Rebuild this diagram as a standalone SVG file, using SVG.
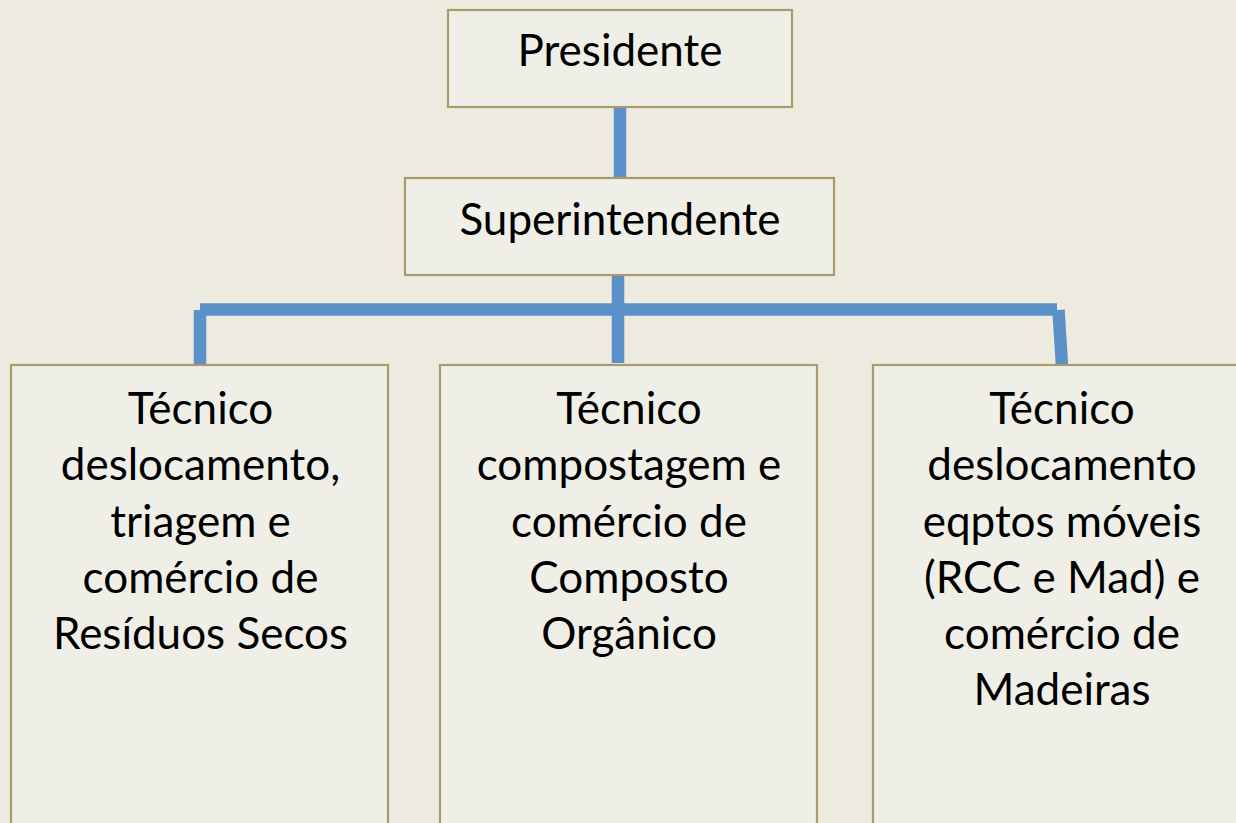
<svg xmlns="http://www.w3.org/2000/svg" width="1236" height="823" viewBox="0 0 1236 823">
<style>
.box{fill:#F0EFE7;stroke:#A99C6B;stroke-width:2.2}
.lbl{font-family:Lato,"Open Sans","Noto Sans",sans-serif;font-size:44px;fill:#000;text-anchor:middle}
.con{stroke:#5B90C8;stroke-width:12.5;fill:none;stroke-linecap:butt}
</style>
<rect x="0" y="0" width="1236" height="823" fill="#EDEADF"/>
<g id="connectors">
<line class="con" x1="620" y1="106" x2="620" y2="179"/>
<line class="con" x1="618" y1="268" x2="618" y2="363"/>
<line class="con" x1="200" y1="309.5" x2="1057" y2="309.5"/>
<line class="con" x1="200" y1="310" x2="200" y2="366"/>
<line class="con" x1="1058.5" y1="310" x2="1062" y2="366"/>
</g>
<g id="presidente">
<rect class="box" x="448" y="10" width="344" height="97"/>
<text class="lbl" x="620" y="66">Presidente</text>
</g>
<g id="superintendente">
<rect class="box" x="405" y="178" width="429" height="97"/>
<text class="lbl" x="620" y="235">Superintendente</text>
</g>
<g id="tecnico-secos">
<rect class="box" x="11" y="365" width="377" height="470"/>
<text class="lbl" x="200.5" y="424">Técnico</text>
<text class="lbl" x="200.5" y="480">deslocamento,</text>
<text class="lbl" x="200.5" y="537">triagem e</text>
<text class="lbl" x="200.5" y="593">comércio de</text>
<text class="lbl" x="200.5" y="649">Resíduos Secos</text>
</g>
<g id="tecnico-composto">
<rect class="box" x="440" y="365" width="377" height="470"/>
<text class="lbl" x="629" y="424">Técnico</text>
<text class="lbl" x="629" y="480">compostagem e</text>
<text class="lbl" x="629" y="537">comércio de</text>
<text class="lbl" x="629" y="593">Composto</text>
<text class="lbl" x="629" y="649">Orgânico</text>
</g>
<g id="tecnico-madeiras">
<rect class="box" x="873" y="365" width="378" height="470"/>
<text class="lbl" x="1062" y="424">Técnico</text>
<text class="lbl" x="1062" y="480">deslocamento</text>
<text class="lbl" x="1062" y="537">eqptos móveis</text>
<text class="lbl" x="1062" y="593">(RCC e Mad) e</text>
<text class="lbl" x="1062" y="649">comércio de</text>
<text class="lbl" x="1062" y="705">Madeiras</text>
</g>
</svg>
